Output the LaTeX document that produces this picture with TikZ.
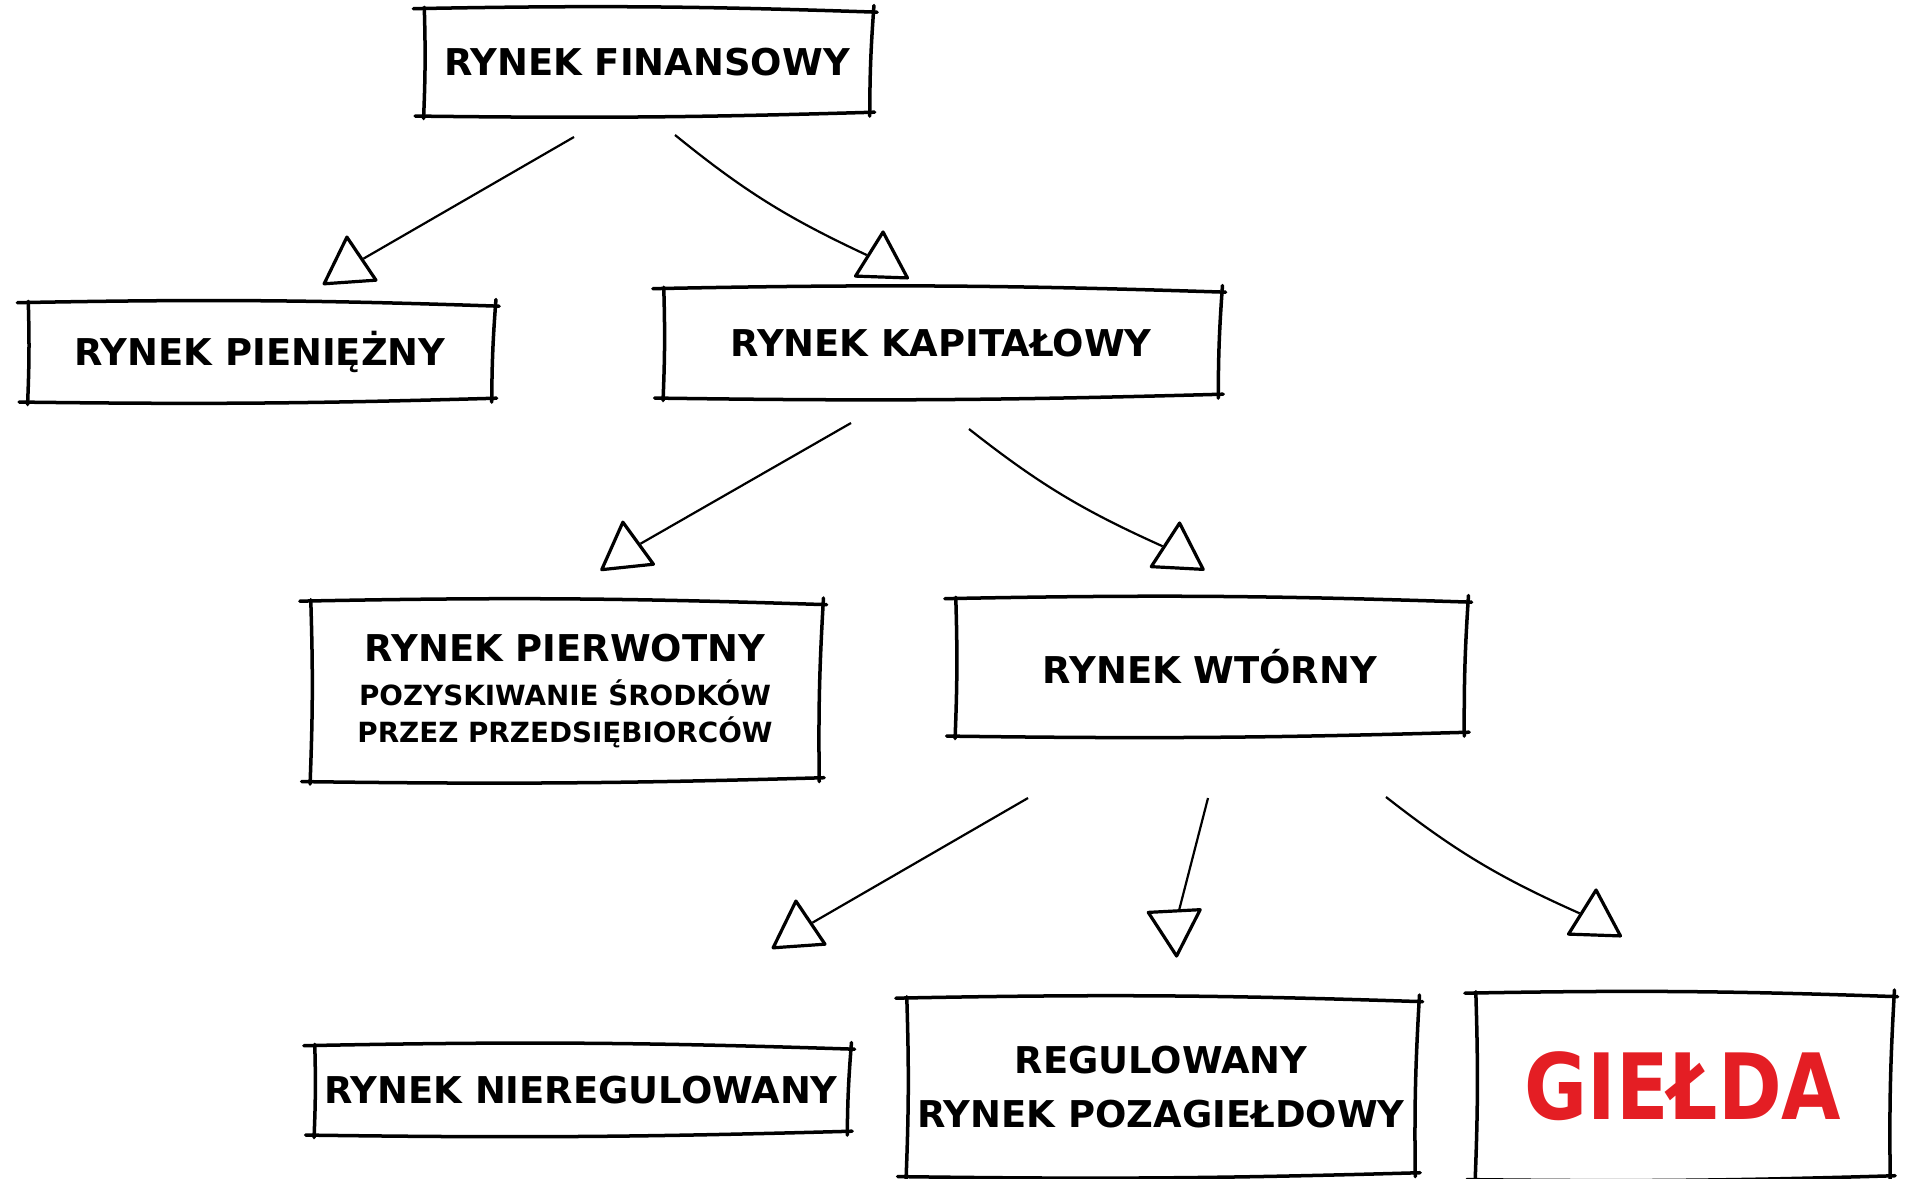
\documentclass[tikz,border=0pt]{standalone}
\usepackage{fontspec}
\setmainfont{DejaVu Sans}
\usetikzlibrary{shapes.geometric}
\definecolor{gieldared}{RGB}{228,30,36}
\newcommand\smalllbl{\fontsize{7.9}{10}\selectfont}
% hand drawn frame round a node, sides overshoot at the corners
\newcommand\sketchbox[1]{%
  \draw[edge] ([shift={(-2.5pt,0.6pt)}]#1.north west) to[bend left=1.5] ([shift={(1.5pt,-0.4pt)}]#1.north east);
  \draw[edge] ([shift={(0.6pt,1.5pt)}]#1.north east) to[bend right=2] ([shift={(-0.6pt,-0.8pt)}]#1.south east);
  \draw[edge] ([shift={(0.8pt,0.3pt)}]#1.south east) to[bend left=1.2] ([shift={(-2pt,-0.8pt)}]#1.south west);
  \draw[edge] ([shift={(0.4pt,-1.5pt)}]#1.south west) to[bend right=2] ([shift={(0.6pt,1pt)}]#1.north west);
}
\tikzset{
  box/.style={align=center, inner sep=0pt, font=\fontsize{10.5}{15.6}\selectfont\bfseries},
  edge/.style={line width=0.35mm, line cap=round},
  tri/.style={draw, regular polygon, regular polygon sides=3, minimum size=0.6cm,
    inner sep=0pt, line width=0.32mm, line join=round},
  link/.style={line width=0.22mm}
}
\begin{document}
\begin{tikzpicture}[x=0.01cm, y=-0.01cm]
			%%%%% START %%%%%
			\useasboundingbox (0, 0) rectangle (1907, 1178);
			
			\node[box, minimum width=4.48cm, minimum height=1.01cm] (fin) at (647, 62) {RYNEK FINANSOWY};
			\node[box, minimum width=4.66cm, minimum height=0.93cm] (pien) at (260, 352) {RYNEK PIENIĘŻNY};
			\node[box, minimum width=5.57cm, minimum height=1.03cm] (kap) at (941, 343) {RYNEK KAPITAŁOWY};
			
			\node[box, minimum width=5.11cm, minimum height=1.74cm] (pierw) at (565, 691)
				{RYNEK PIERWOTNY\\[-3pt]\smalllbl POZYSKIWANIE ŚRODKÓW\\[-5pt]\smalllbl PRZEZ PRZEDSIĘBIORCÓW};
			\node[box, minimum width=5.11cm, minimum height=1.31cm] (wtor) at (1210, 667) {RYNEK WTÓRNY};
			
			\node[box, minimum width=5.35cm, minimum height=0.83cm] (niereg) at (581, 1090) {RYNEK NIEREGULOWANY};
			\node[box, minimum width=5.11cm, minimum height=1.72cm] (reg) at (1161, 1087) {REGULOWANY\\ RYNEK POZAGIEŁDOWY};
			\node[box, minimum width=4.17cm, minimum height=1.80cm, text=gieldared,
				font=\fontsize{26}{30}\selectfont\bfseries] (gield) at (1683, 1086) {\scalebox{0.84}[1]{GIEŁDA}};
			
			\sketchbox{fin}
			\sketchbox{pien}
			\sketchbox{kap}
			\sketchbox{pierw}
			\sketchbox{wtor}
			\sketchbox{niereg}
			\sketchbox{reg}
			\sketchbox{gield}
			
			% triangles
			\node[tri, rotate=4] (t1) at (349, 267) {};
			\node[tri, rotate=-2] (t2) at (882, 262) {};
			\node[tri, rotate=6] (t3) at (626, 552) {};
			\node[tri, rotate=-3] (t4) at (1178, 553) {};
			\node[tri, rotate=4] (t5) at (798, 931) {};
			\node[tri, rotate=183] (t6) at (1175, 926) {};
			\node[tri, rotate=-2] (t7) at (1595, 920) {};
			
			% line starts
			\coordinate (s1) at (574, 137);
			\coordinate (s2) at (675, 135);
			\coordinate (s3) at (851, 423);
			\coordinate (s4) at (969, 429);
			\coordinate (s5) at (1028, 798);
			\coordinate (s6) at (1208, 798);
			\coordinate (s7) at (1386, 797);
			
			\draw[link] (s1) -- (t1);
			\draw[link] (s2) to[bend right=7] (t2);
			\draw[link] (s3) -- (t3);
			\draw[link] (s4) to[bend right=7] (t4);
			\draw[link] (s5) -- (t5);
			\draw[link] (s6) -- (t6);
			\draw[link] (s7) to[bend right=7] (t7);
			
			%%%%% END %%%%%
\end{tikzpicture}
\end{document}
